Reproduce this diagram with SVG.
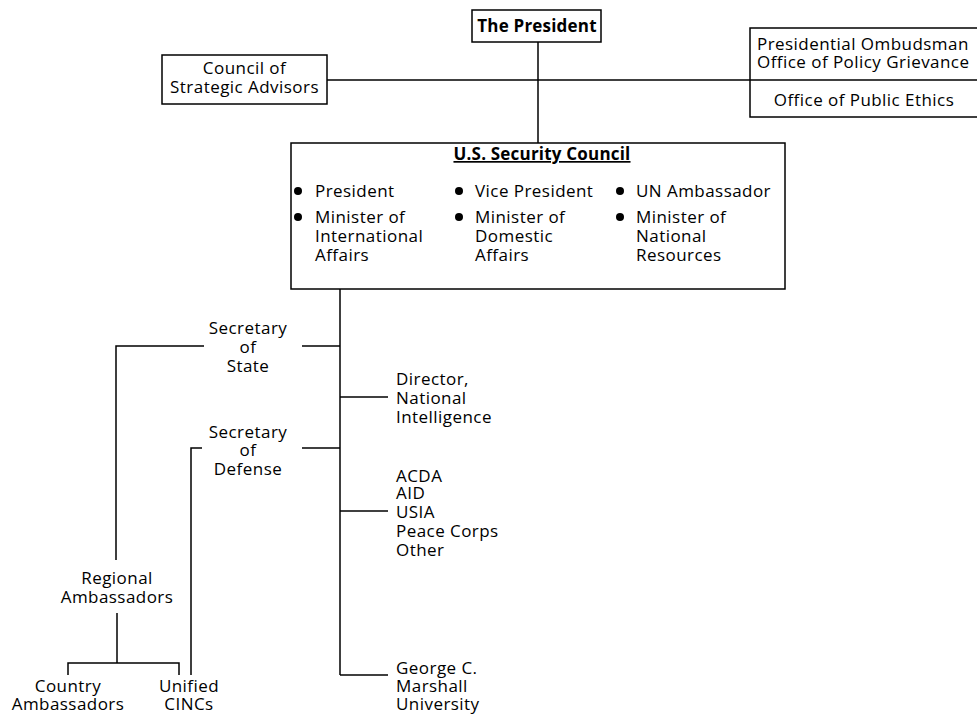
<svg xmlns="http://www.w3.org/2000/svg" width="977" height="715" viewBox="0 0 977 715">
<style>
text{font-family:"Open Sans","Noto Sans",sans-serif;font-size:17px;fill:#000;letter-spacing:0.45px}
.c{text-anchor:middle}
.b{font-weight:bold;letter-spacing:0.2px}
.box{fill:#fff;stroke:#000;stroke-width:1.5}
.ln{fill:none;stroke:#000;stroke-width:1.5}
</style>
<rect width="977" height="715" fill="#fff"/>
<g id="connectors" class="ln">
<path d="M538 42V143"/>
<path d="M327 80H750"/>
<path d="M340 289V675"/>
<path d="M302 346H340"/>
<path d="M204 346H116V560"/>
<path d="M340 397H388"/>
<path d="M302 448H340"/>
<path d="M202 448H191V675"/>
<path d="M340 511H388"/>
<path d="M340 675H388"/>
<path d="M117 613V663"/>
<path d="M68 675V663H179V675"/>
</g>
<g id="president">
<rect class="box" x="472" y="10" width="129" height="32"/>
<text class="c b" x="537" y="32">The President</text>
</g>
<g id="council-strategic">
<rect class="box" x="162" y="55" width="165" height="49"/>
<text class="c" x="244.5" y="74">Council of</text>
<text class="c" x="244.5" y="93">Strategic Advisors</text>
</g>
<g id="ombudsman">
<rect class="box" x="750" y="28" width="240" height="89"/>
<path class="ln" d="M750 80H977"/>
<text x="757" y="50">Presidential Ombudsman</text>
<text x="757" y="68">Office of Policy Grievance</text>
<text class="c" x="864" y="106">Office of Public Ethics</text>
</g>
<g id="security-council">
<rect class="box" x="291" y="143" width="494" height="146"/>
<text class="c b" x="542" y="160" text-decoration="underline">U.S. Security Council</text>
<circle cx="298" cy="191" r="4"/>
<text x="315" y="197">President</text>
<circle cx="298" cy="217" r="4"/>
<text x="315" y="223">Minister of</text>
<text x="315" y="242">International</text>
<text x="315" y="261">Affairs</text>
<circle cx="459" cy="191" r="4"/>
<text x="475" y="197">Vice President</text>
<circle cx="459" cy="217" r="4"/>
<text x="475" y="223">Minister of</text>
<text x="475" y="242">Domestic</text>
<text x="475" y="261">Affairs</text>
<circle cx="620" cy="191" r="4"/>
<text x="636" y="197">UN Ambassador</text>
<circle cx="620" cy="217" r="4"/>
<text x="636" y="223">Minister of</text>
<text x="636" y="242">National</text>
<text x="636" y="261">Resources</text>
</g>
<g id="sec-state">
<text class="c" x="248" y="334">Secretary</text>
<text class="c" x="248" y="353">of</text>
<text class="c" x="248" y="372">State</text>
</g>
<g id="sec-defense">
<text class="c" x="248" y="438">Secretary</text>
<text class="c" x="248" y="456">of</text>
<text class="c" x="248" y="475">Defense</text>
</g>
<g id="dni">
<text x="396" y="385">Director,</text>
<text x="396" y="404">National</text>
<text x="396" y="423">Intelligence</text>
</g>
<g id="agencies">
<text x="396" y="482">ACDA</text>
<text x="396" y="499">AID</text>
<text x="396" y="518">USIA</text>
<text x="396" y="537">Peace Corps</text>
<text x="396" y="556">Other</text>
</g>
<g id="marshall">
<text x="396" y="674">George C.</text>
<text x="396" y="692">Marshall</text>
<text x="396" y="710">University</text>
</g>
<g id="regional">
<text class="c" x="117" y="584">Regional</text>
<text class="c" x="117" y="603">Ambassadors</text>
</g>
<g id="country">
<text class="c" x="68" y="692">Country</text>
<text class="c" x="68" y="710">Ambassadors</text>
</g>
<g id="cincs">
<text class="c" x="189" y="692">Unified</text>
<text class="c" x="189" y="710">CINCs</text>
</g>
</svg>
